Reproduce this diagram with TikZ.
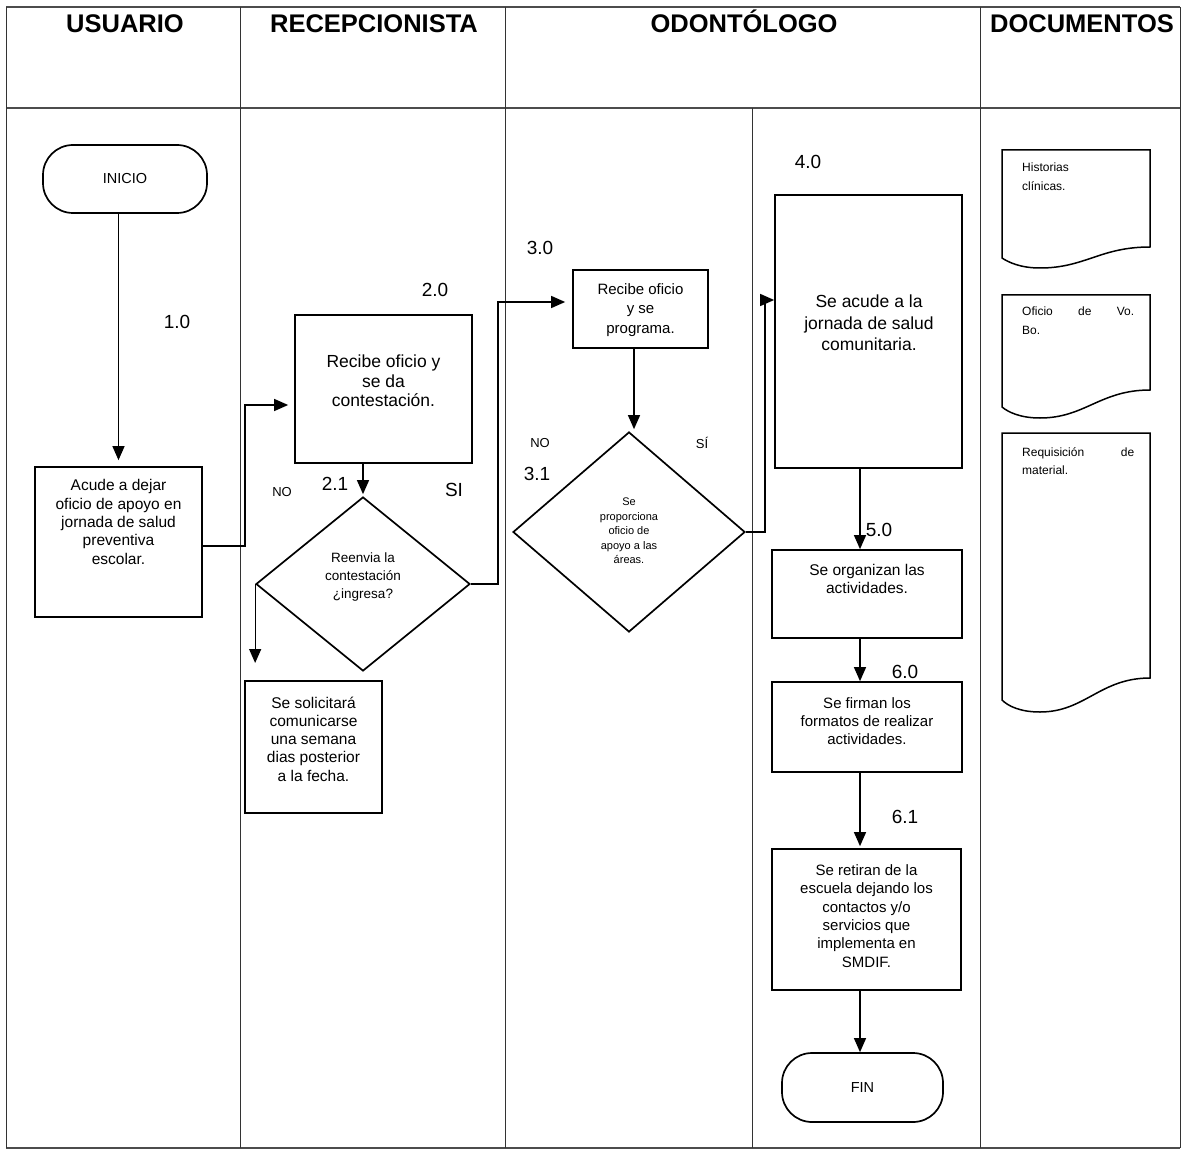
\documentclass[tikz,border=0pt]{standalone}
\usepackage{fontspec}
\setmainfont{Liberation Sans}
\usetikzlibrary{arrows.meta,shapes.geometric}

\begin{document}
\begin{tikzpicture}[x=1pt,y=-1pt,
  lane/.style={line width=1pt, draw=black!80},
  rule/.style={line width=2pt, draw=black!70},
  shp/.style={draw, line width=1.7pt, inner sep=0pt},
  box/.style={shp, rectangle},
  term/.style={shp, rectangle, rounded corners=30pt, font=\fontsize{14.5}{14.5}\selectfont},
  decision/.style={shp, diamond},
  flow/.style={line width=1.3pt},
  arr/.style={flow, -{Triangle[length=14pt,width=12pt]}},
  num/.style={font=\fontsize{19}{19}\selectfont, inner sep=0pt},
  yesno/.style={font=\fontsize{13}{13}\selectfont, inner sep=0pt},
  txt/.style={align=center, inner sep=0pt},
  head/.style={font=\bfseries\fontsize{25.5}{25.5}\selectfont, inner sep=0pt, anchor=base},
  doctxt/.style={align=left, inner sep=0pt, anchor=north west, font=\fontsize{12}{18.5}\selectfont},
  docline/.style={line width=1.5pt}
]
\useasboundingbox (0,0) rectangle (1182,1155);
\fill[white] (0,0) rectangle (1182,1155);

% swimlane grid
\draw[rule] (6,7) -- (1180,7);
\draw[rule] (6,108) -- (1180,108);
\draw[rule] (6,1148) -- (1180,1148);
\draw[lane] (6,7) -- (6,1148);
\draw[lane] (240,7) -- (240,1148);
\draw[lane] (505,7) -- (505,1148);
\draw[lane] (752,108) -- (752,1148);
\draw[lane] (980,7) -- (980,1148);
\draw[lane] (1180,7) -- (1180,1148);

% lane headings, sharing one baseline
\node[head] (hUsu) at (125,33) {USUARIO};
\node[head] (hRec) at (374,33) {RECEPCIONISTA};
\node[head] (hOdo) at (744,33) {ODONTÓLOGO};
\node[head] (hDoc) at (1082,33) {DOCUMENTOS};

% USUARIO
\node[term, minimum width=164pt, minimum height=68pt] (ini) at (125,179) {INICIO};
\node[box, minimum width=167pt, minimum height=150pt] (a1) at (118.5,542) {};
\node[txt, font=\fontsize{15.5}{18.3}\selectfont] (a1T) at (118.5,522)
  {Acude a dejar\\oficio de apoyo en\\jornada de salud\\preventiva\\escolar.};
\node[num] (n10) at (177,322) {1.0};

% RECEPCIONISTA
\node[box, minimum width=177pt, minimum height=148pt] (b20) at (383.5,389) {};
\node[txt, font=\fontsize{17.5}{19.5}\selectfont] (b20T) at (383.5,381)
  {Recibe oficio y\\se da\\contestación.};
\node[num] (n20) at (435,290) {2.0};

\node[decision, minimum width=214pt, minimum height=174pt] (d21) at (363,584) {};
\node[txt, font=\fontsize{13.5}{18}\selectfont] (d21T) at (363,577)
  {Reenvia la\\contestación\\¿ingresa?};
\node[num] (n21) at (335,484) {2.1};
\node[yesno] (no21) at (282,492) {NO};
\node[num] (si21) at (454,490) {SI};

\node[box, minimum width=137pt, minimum height=132pt] (c21) at (313.5,747) {};
\node[txt, font=\fontsize{15.5}{18.3}\selectfont] (c21T) at (313.5,739)
  {Se solicitará\\comunicarse\\una semana\\dias posterior\\a la fecha.};

% ODONTÓLOGO
\node[box, minimum width=135pt, minimum height=78pt] (b30) at (640.5,309) {};
\node[txt, font=\fontsize{15}{19.5}\selectfont] (b30T) at (640.5,310)
  {Recibe oficio\\y se\\programa.};
\node[num] (n30) at (540,248) {3.0};

\node[decision, minimum width=232pt, minimum height=200pt] (d31) at (629,532) {};
\node[txt, font=\fontsize{11}{14.5}\selectfont] (d31T) at (629,531)
  {Se\\proporciona\\oficio de\\apoyo a las\\áreas.};
\node[num] (n31) at (537,474) {3.1};
\node[yesno] (no31) at (540,443) {NO};
\node[yesno] (si31) at (702,443) {SÍ};

\node[box, minimum width=187pt, minimum height=273pt] (b40) at (868.5,331.5) {};
\node[txt, font=\fontsize{17.5}{21.5}\selectfont] (b40T) at (869,323)
  {Se acude a la\\jornada de salud\\comunitaria.};
\node[num] (n40) at (808,162) {4.0};

\node[box, minimum width=190pt, minimum height=88pt] (b50) at (867,594) {};
\node[txt, font=\fontsize{15.5}{18}\selectfont] (b50T) at (867,579)
  {Se organizan las\\actividades.};
\node[num] (n50) at (879,530) {5.0};

\node[box, minimum width=190pt, minimum height=90pt] (b60) at (867,727) {};
\node[txt, font=\fontsize{15}{18}\selectfont] (b60T) at (867,721)
  {Se firman los\\formatos de realizar\\actividades.};
\node[num] (n60) at (905,672) {6.0};

\node[box, minimum width=189pt, minimum height=141pt] (b61) at (866.5,919.5) {};
\node[txt, font=\fontsize{15}{18.3}\selectfont] (b61T) at (866.5,916)
  {Se retiran de la\\escuela dejando los\\contactos y/o\\servicios que\\implementa en\\SMDIF.};
\node[num] (n61) at (905,817) {6.1};

\node[term, minimum width=161pt, minimum height=69pt] (fin) at (862.5,1087.5) {FIN};

% connectors
\coordinate (spine) at (860,0);
\coordinate (j1) at (245,405);
\coordinate (j2) at (498,302);
\coordinate (j3) at (765,300);
\coordinate (noEnd) at (257,663);

\draw[arr, shorten >=6pt] (ini.south -| a1.north) -- (a1.north);
\draw[arr, shorten >=6pt] ([yshift=-4pt]a1.east) -| (j1) -- (j1 -| b20.west);
\draw[arr, shorten >=2pt] (b20.south -| d21.north) -- (d21.north);
\draw[arr] (d21.west) -- (d21.west |- noEnd);
\draw[arr, shorten >=7pt] (d21.east) -| (j2) -- (j2 -| b30.west);
\draw[arr, shorten >=2pt] ([xshift=5pt]b30.south -| d31.north) -- ([xshift=5pt]d31.north);
\draw[arr] (d31.east) -| (j3) -- (j3 -| b40.west);
\draw[arr] (b40.south -| spine) -- (b50.north -| spine);
\draw[arr] (b50.south -| spine) -- (b60.north -| spine);
\draw[arr, shorten >=2pt] (b60.south -| spine) -- (b61.north -| spine);
\draw[arr] (b61.south -| spine) -- (fin.north -| spine);

% documents
\draw[docline] (1002,150) -- (1150,150) -- (1150,247)
  .. controls (1100,247) and (1085,268) .. (1040,268)
  .. controls (1020,268) and (1008,262) .. (1002,258) -- cycle;
\node[doctxt] (doc1) at (1022,163) {Historias\\clínicas.};

\draw[docline] (1002,295) -- (1150,295) -- (1150,390)
  .. controls (1100,390) and (1085,418) .. (1040,418)
  .. controls (1020,418) and (1008,412) .. (1002,407) -- cycle;
\node[doctxt] (doc2) at (1022,307) {\hbox to 112pt{Oficio\hfill de\hfill Vo.}\\Bo.};

\draw[docline] (1002,433) -- (1150,433) -- (1150,678)
  .. controls (1100,678) and (1085,712) .. (1040,712)
  .. controls (1020,712) and (1008,706) .. (1002,700) -- cycle;
\node[doctxt] (doc3) at (1022,447) {\hbox to 112pt{Requisición\hfill de}\\material.};
\end{tikzpicture}
\end{document}
